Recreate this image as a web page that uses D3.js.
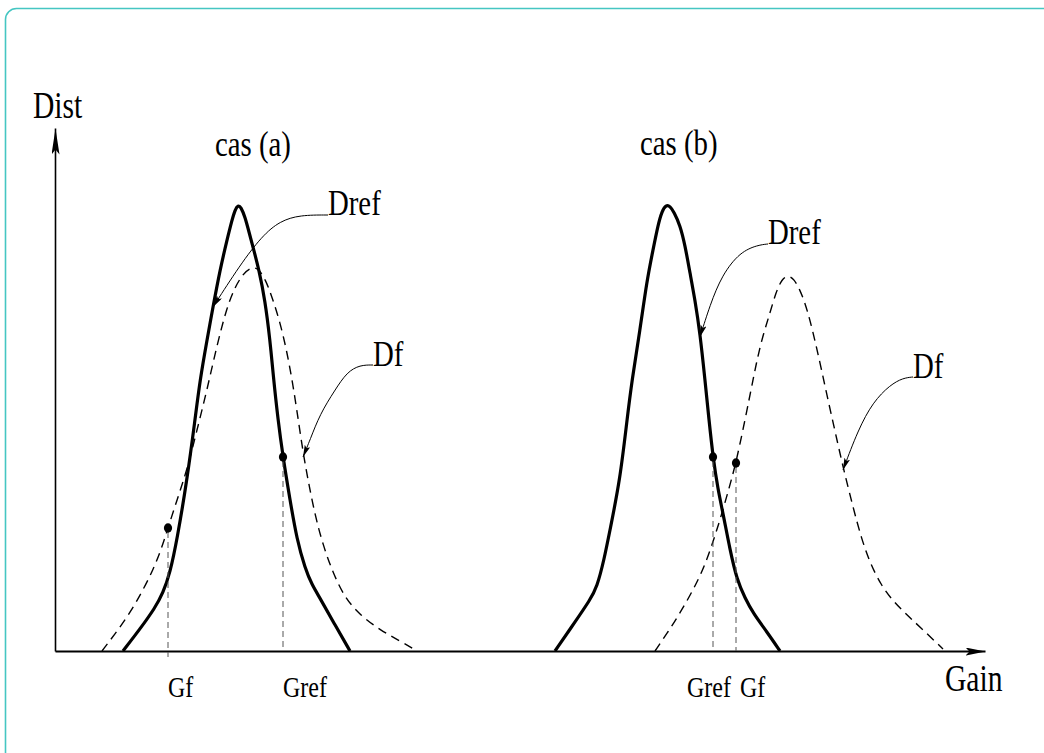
<!DOCTYPE html>
<html>
<head>
<meta charset="utf-8">
<script src="https://cdn.jsdelivr.net/npm/d3@7"></script>
<style>
  html, body { margin: 0; padding: 0; background: #fff; }
  svg { display: block; }
  text { font-family: "Liberation Serif", "DejaVu Serif", serif; fill: #000; }
</style>
</head>
<body>
<svg id="chart" width="1044" height="753"></svg>
<script>
// Reference distribution of the gain (solid) and faulty distribution (dashed),
// for the two cases. Points are [gain, dist].
const drefA = [[6.8,0],[8.5,2.2],[10,4.3],[10.8,5.8],[11.5,7.8],[12.2,11.1],[13.2,17.1],[14,23.1],[14.5,27.1],
  [15.2,31.1],[15.8,34.4],[16.5,38.1],[17.2,41.1],[17.7,43.1],[18.0,44.1],[18.3,44.6],[18.6,44.4],[19.0,43.4],
  [19.4,41.9],[19.8,40.4],[20.4,38.1],[21,35.1],[21.5,31.1],[21.8,27.8],[22.3,23.1],[22.8,19.4],[23.5,15.1],
  [24.2,11.1],[25,8.3],[25.7,6.6],[26.5,5.3],[28,2.6],[29.5,0]];
const dfA = [[4.7,0],[6,1.7],[7.5,3.8],[8.8,6.1],[9.8,8.1],[10.6,10.1],[11.3,12.3],[12.2,15.1],[13.2,18.1],
  [14.2,22.1],[15.2,26.1],[16.2,30.6],[17.2,34.4],[18,36.4],[18.8,37.7],[19.5,38.3],[20.2,38.4],[21,37.3],
  [21.7,35.4],[22.5,32.9],[23.2,29.9],[23.8,26.6],[24.3,23.3],[24.8,19.9],[25.3,17.1],[26,13.6],[26.8,10.6],
  [27.8,7.8],[29,5.3],[30.5,3.6],[32.5,2.1],[34.5,1],[36.2,0]];
const drefB = [[50,0],[52,2.9],[53.5,5.1],[54.2,6.4],[54.9,9.1],[55.5,12.1],[56.5,17.1],[57.2,23.1],[57.7,27.1],
  [58.5,32.1],[59.2,37.1],[59.8,40.1],[60.3,42.6],[60.7,44.0],[61.1,44.6],[61.5,44.5],[61.9,43.9],[62.5,42.6],
  [63,40.6],[63.5,37.8],[64,35.1],[64.5,31.8],[65,27.1],[65.4,23.1],[65.8,19.4],[66.3,16.1],[66.8,13.8],
  [67.5,10.1],[68.2,7.1],[69,5.3],[69.8,3.8],[71.2,1.9],[72.5,0]];
const dfB = [[60,0],[61.3,1.9],[62.5,3.8],[63.7,5.9],[64.8,8.1],[65.7,10.6],[66.5,13.1],[67.3,15.9],[68.1,18.8],
  [69,23.1],[69.8,27.1],[70.2,29.1],[70.8,31.6],[71.5,33.8],[72.1,35.9],[72.7,37.2],[73.3,37.6],[73.9,37.2],
  [74.5,36.1],[75,34.8],[75.5,33.1],[76.1,30.6],[76.7,27.9],[77.3,25.1],[78,22.0],[78.8,18.4],[79.8,14.4],
  [80.6,11.4],[81.5,8.8],[82.6,6.6],[83.8,5.0],[85.1,3.7],[86.5,2.4],[88.8,0.2]];

// Operating points marked on the curves, with their gain labels
const gainLabels = ["Gf", "Gref", "Gref", "Gf"];
const gainPoints = [[11.3,12.3],[22.8,19.4],[65.8,19.4],[68.1,18.8]];

// Curve names and the callout lines that point from each name to its curve
const curveNames = ["Dref", "Df", "Dref", "Df"];
const calloutDrefA = [[27.3,43.6],[24.5,43.6],[22.5,43.0],[20.7,41.5],[18.5,38.6],[15.8,34.4]];
const calloutDfA = [[31.8,28.6],[30.5,28.6],[29.2,27.9],[28,26.1],[26.5,23.7],[25.5,21.1],[24.8,19.4]];
const calloutDrefB = [[71.3,40.7],[70.3,40.6],[68.5,39.9],[66.7,37.6],[65.5,34.6],[64.5,31.4]];
const calloutDfB = [[85.8,27.4],[84.8,27.3],[83.5,26.6],[81.8,24.9],[80.3,22.1],[78.8,18.1]];

const caseTitles = ["cas (a)", "cas (b)"];
const axisTitles = ["Gain", "Dist"];

const svg = d3.select("#chart");

// rounded frame
svg.append("rect")
  .attr("x", 5.5).attr("y", 8.5)
  .attr("width", 1070).attr("height", 770)
  .attr("rx", 11).attr("ry", 11)
  .attr("fill", "none")
  .attr("stroke", "#45c6c2")
  .attr("stroke-width", 1.6);

const x = d3.scaleLinear().domain([0, 93]).range([55, 985]);
const y = d3.scaleLinear().domain([0, 52.3]).range([651, 128]);

const defs = svg.append("defs");
defs.append("marker")
  .attr("id", "axisHeadX").attr("viewBox", "0 0 20 8")
  .attr("refX", 20).attr("refY", 4)
  .attr("markerWidth", 20).attr("markerHeight", 8)
  .attr("markerUnits", "userSpaceOnUse").attr("orient", "auto")
  .append("path").attr("d", "M0,0 L20,4 L0,8 L4,4 Z").attr("fill", "#000");
defs.append("marker")
  .attr("id", "axisHeadY").attr("viewBox", "0 0 26 8")
  .attr("refX", 26).attr("refY", 4)
  .attr("markerWidth", 26).attr("markerHeight", 8)
  .attr("markerUnits", "userSpaceOnUse").attr("orient", "auto")
  .append("path").attr("d", "M0,0 L26,4 L0,8 L5,4 Z").attr("fill", "#000");
defs.append("marker")
  .attr("id", "calloutHead").attr("viewBox", "0 0 12 6")
  .attr("refX", 12).attr("refY", 3)
  .attr("markerWidth", 12).attr("markerHeight", 6)
  .attr("markerUnits", "userSpaceOnUse").attr("orient", "auto")
  .append("path").attr("d", "M0,0 L12,3 L0,6 L2.5,3 Z").attr("fill", "#000");

// axes: plain lines ending in arrows
const gx = svg.append("g")
  .attr("transform", `translate(0,${y(0)})`)
  .call(d3.axisBottom(x).tickValues([]).tickSizeOuter(0));
gx.select(".domain").attr("stroke-width", 2).attr("marker-end", "url(#axisHeadX)");

const gy = svg.append("g")
  .attr("transform", `translate(${x(0)},0)`)
  .call(d3.axisLeft(y).tickValues([]).tickSizeOuter(0));
gy.select(".domain").attr("stroke-width", 1.6).attr("marker-end", "url(#axisHeadY)");

const line = d3.line()
  .x(d => x(d[0])).y(d => y(d[1]))
  .curve(d3.curveBasis);

// reference distributions
[drefA, drefB].forEach(pts => {
  svg.append("path").attr("d", line(pts))
    .attr("fill", "none").attr("stroke", "#000")
    .attr("stroke-width", 3.2).attr("stroke-linejoin", "round");
});
// faulty distributions
[dfA, dfB].forEach(pts => {
  svg.append("path").attr("d", line(pts))
    .attr("fill", "none").attr("stroke", "#000")
    .attr("stroke-width", 1.4).attr("stroke-dasharray", "9,6");
});

// drop lines and points
gainPoints.forEach((p, i) => {
  svg.append("line")
    .attr("x1", x(p[0])).attr("x2", x(p[0]))
    .attr("y1", y(p[1]) + 4).attr("y2", y(0) + (i === 0 ? 6 : 0))
    .attr("stroke", "#555").attr("stroke-width", 1)
    .attr("stroke-dasharray", "6,4");
  svg.append("ellipse")
    .attr("cx", x(p[0])).attr("cy", y(p[1]))
    .attr("rx", 4.1).attr("ry", 4.7).attr("fill", "#000");
});

// condensed serif text helper
function label(txt, px, py, size, sx) {
  svg.append("text")
    .attr("transform", `translate(${px},${py}) scale(${sx || 0.8},1)`)
    .attr("font-size", size)
    .text(txt);
}

// gain labels under the axis
const labelOffsets = [0, 0, -26, 4];
gainPoints.forEach((p, i) => {
  label(gainLabels[i], x(p[0]) + labelOffsets[i], 697, 30, 0.8);
});

// callouts
const calloutLine = d3.line()
  .x(d => x(d[0])).y(d => y(d[1]))
  .curve(d3.curveBasis);
const callouts = [calloutDrefA, calloutDfA, calloutDrefB, calloutDfB];
callouts.forEach((pts, i) => {
  svg.append("path").attr("d", calloutLine(pts))
    .attr("fill", "none").attr("stroke", "#000").attr("stroke-width", 1)
    .attr("marker-end", "url(#calloutHead)");
  const s = pts[0];
  label(curveNames[i], x(s[0]), y(s[1]) + (i % 2 === 0 ? 0 : 1), 36);
});

// titles
label(caseTitles[0], 215, 156, 36);
label(caseTitles[1], 640, 155, 36);
label(axisTitles[0], 945, 691, 37);
label(axisTitles[1], 33, 118, 37);
</script>
</body>
</html>
